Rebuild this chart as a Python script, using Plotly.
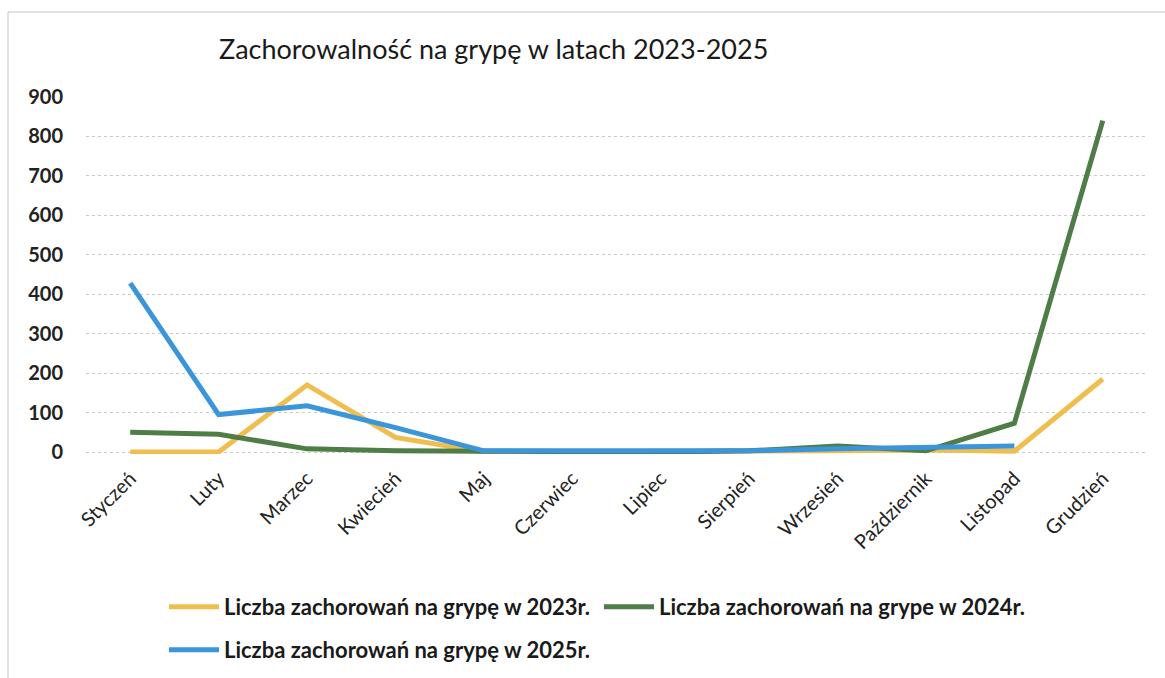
import plotly.graph_objects as go

months = ["Styczeń", "Luty", "Marzec", "Kwiecień", "Maj", "Czerwiec", "Lipiec",
          "Sierpień", "Wrzesień", "Październik", "Listopad", "Grudzień"]
cases_2023 = [0, 0, 170, 37, 0, 0, 0, 0, 3, 5, 2, 185]
cases_2024 = [50, 45, 8, 3, 2, 0, 0, 3, 15, 3, 73, 840]
cases_2025 = [428, 95, 117, 62, 3, 2, 1, 3, 8, 12, 15, None]

names = ["Liczba zachorowań na grypę w 2023r.",
         "Liczba zachorowań na grype w 2024r.",
         "Liczba zachorowań na grypę w 2025r."]
colors = ["#F0BE4E", "#4E7D47", "#3A95DA"]
legends = ["legend", "legend", "legend2"]
yticks = [0, 100, 200, 300, 400, 500, 600, 700, 800, 900]

fig = go.Figure()
for name, vals, col, lg in zip(names, [cases_2023, cases_2024, cases_2025], colors, legends):
    fig.add_trace(go.Scatter(x=months, y=vals, name=name, mode="lines",
                             line=dict(color=col, width=5), connectgaps=False,
                             legend=lg))

legend_common = dict(orientation="h", xref="container", yref="container",
                     xanchor="left", yanchor="middle",
                     font=dict(size=22, color="#1a1a1a", weight="bold"),
                     traceorder="normal", itemwidth=50)

T, B = 97, 224  # plot area top / bottom margins
H = 678 - T - B

fig.update_layout(
    width=1165, height=678,
    paper_bgcolor="white", plot_bgcolor="white",
    margin=dict(l=86, r=18, t=T, b=B, autoexpand=False),
    font=dict(family="Lato, Carlito, sans-serif", color="#222222"),
    title=dict(text="Zachorowalność na grypę w latach 2023-2025",
               x=219 / 1165, xanchor="left", y=1 - 50 / 678, yanchor="middle",
               font=dict(size=27, color="#1a1a1a")),
    xaxis=dict(type="category", range=[-0.5, 11.5], tickangle=-45,
               showgrid=False, showline=False, ticks="", automargin=False,
               ticklabelstandoff=8,
               tickfont=dict(size=20, color="#222222")),
    yaxis=dict(range=[-5, 900], tickvals=yticks, showgrid=True,
               gridcolor="#c8c8c8", gridwidth=1, griddash="dot",
               zeroline=False, showline=False, ticks="", automargin=False,
               ticklabelstandoff=22,
               tickfont=dict(size=20, color="#222222", weight="bold")),
    legend=dict(legend_common, x=164 / 1165, y=1 - 607 / 678,
                entrywidth=370, entrywidthmode="pixels"),
    legend2=dict(legend_common, x=164 / 1165, y=1 - 650 / 678),
    shapes=[
        dict(type="line", xref="paper", yref="paper", x0=-78 / 1061, x1=-78 / 1061,
             y0=-B / H, y1=(678 - B - 12) / H, line=dict(color="#c4c4c4", width=1)),
        dict(type="line", xref="paper", yref="paper", x0=-78 / 1061, x1=1.02,
             y0=(678 - B - 12) / H, y1=(678 - B - 12) / H, line=dict(color="#c4c4c4", width=1)),
    ],
)

fig.write_html("out.html", config={"displayModeBar": False},
               post_script="document.body.style.margin='0';document.body.style.overflow='hidden';")
